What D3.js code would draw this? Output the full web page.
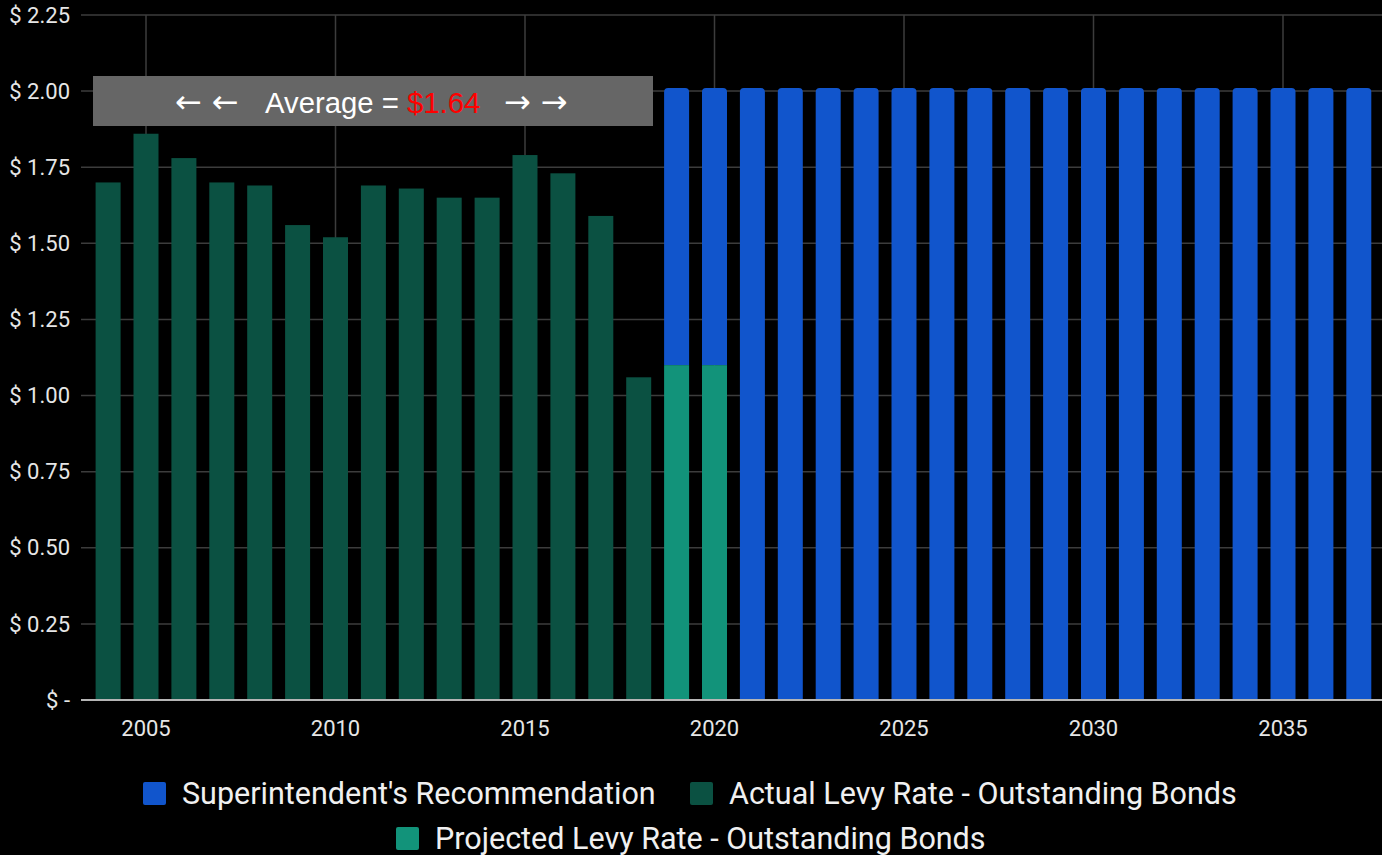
<!DOCTYPE html>
<html>
<head>
<meta charset="utf-8">
<script src="https://cdn.jsdelivr.net/npm/d3@7"></script>
<style>
  html, body { margin: 0; padding: 0; background: #000; }
  svg { display: block; }
</style>
</head>
<body>
<svg id="chart" width="1382" height="855"></svg>
<script>
// Levy rate per year ($ per $1,000 assessed value)
const actualYears = [2004, 2005, 2006, 2007, 2008, 2009, 2010, 2011, 2012, 2013, 2014, 2015, 2016, 2017, 2018];
const actualRates = [1.70, 1.86, 1.78, 1.70, 1.69, 1.56, 1.52, 1.69, 1.68, 1.65, 1.65, 1.79, 1.73, 1.59, 1.06];

const projectedYears = [2019, 2020];
const projectedRates = [1.10, 1.10];

const recommendedYears = [2019, 2020, 2021, 2022, 2023, 2024, 2025, 2026, 2027, 2028, 2029, 2030,
  2031, 2032, 2033, 2034, 2035, 2036, 2037];
const recommendedTotals = [2.01, 2.01, 2.01, 2.01, 2.01, 2.01, 2.01, 2.01, 2.01, 2.01, 2.01, 2.01,
  2.01, 2.01, 2.01, 2.01, 2.01, 2.01, 2.01];

const yTicks = [0, 0.25, 0.5, 0.75, 1.0, 1.25, 1.5, 1.75, 2.0, 2.25];
const xTicks = [2005, 2010, 2015, 2020, 2025, 2030, 2035];

const averageLabel = "$1.64";

const seriesNames = ["Superintendent's Recommendation", "Actual Levy Rate - Outstanding Bonds", "Projected Levy Rate - Outstanding Bonds"];
const seriesColors = ["#1155cc", "#0b5142", "#12937a"];

const svg = d3.select("#chart");
const font = "Roboto, 'Noto Sans', sans-serif";

const x = d3.scaleLinear().domain([2005, 2035]).range([146, 1283]);
const y = d3.scaleLinear().domain([0, 2.25]).range([700, 15]);
const barW = 25;
const plotLeft = 81, plotRight = 1382;

// grid
svg.append("g").selectAll("line.h").data(yTicks.filter(d => d > 0)).join("line")
  .attr("x1", plotLeft).attr("x2", plotRight)
  .attr("y1", d => y(d)).attr("y2", d => y(d))
  .attr("stroke", "#3c3c3c").attr("stroke-width", 1.5);
svg.append("g").selectAll("line.v").data(xTicks).join("line")
  .attr("x1", d => x(d)).attr("x2", d => x(d))
  .attr("y1", y(2.25)).attr("y2", y(0))
  .attr("stroke", "#3c3c3c").attr("stroke-width", 1.5);

// y labels
const yFmt = d => d === 0 ? "$ -" : "$ " + d3.format(".2f")(d);
svg.append("g").selectAll("text").data(yTicks).join("text")
  .attr("x", 70).attr("y", d => y(d)).attr("dy", "0.35em")
  .attr("text-anchor", "end").attr("fill", "#e6e6e6")
  .style("font-family", font).style("font-size", "22px")
  .text(yFmt);

// x labels
svg.append("g").selectAll("text").data(xTicks).join("text")
  .attr("x", d => x(d)).attr("y", 736)
  .attr("text-anchor", "middle").attr("fill", "#e6e6e6")
  .style("font-family", font).style("font-size", "22px")
  .text(d => d);

// actual bars
svg.append("g").selectAll("rect").data(actualYears.map((yr, i) => ({ yr, v: actualRates[i] }))).join("rect")
  .attr("x", d => x(d.yr) - barW / 2).attr("width", barW)
  .attr("y", d => y(d.v)).attr("height", d => y(0) - y(d.v))
  .attr("fill", seriesColors[1]);

// projected bars
const projMap = new Map(projectedYears.map((yr, i) => [yr, projectedRates[i]]));
svg.append("g").selectAll("rect").data(projectedYears.map((yr, i) => ({ yr, v: projectedRates[i] }))).join("rect")
  .attr("x", d => x(d.yr) - barW / 2).attr("width", barW)
  .attr("y", d => y(d.v)).attr("height", d => y(0) - y(d.v))
  .attr("fill", seriesColors[2]);

// recommendation bars stacked on projected, rounded top
const r = 4;
function topRounded(x0, y0, w, h) {
  return `M${x0},${y0 + h} L${x0},${y0 + r} Q${x0},${y0} ${x0 + r},${y0} L${x0 + w - r},${y0} Q${x0 + w},${y0} ${x0 + w},${y0 + r} L${x0 + w},${y0 + h} Z`;
}
svg.append("g").selectAll("path").data(recommendedYears.map((yr, i) => ({ yr, total: recommendedTotals[i], base: projMap.get(yr) || 0 }))).join("path")
  .attr("d", d => topRounded(x(d.yr) - barW / 2, y(d.total), barW, y(d.base) - y(d.total)))
  .attr("fill", seriesColors[0]);

// baseline
svg.append("line").attr("x1", plotLeft).attr("x2", plotRight)
  .attr("y1", y(0)).attr("y2", y(0))
  .attr("stroke", "#b5b5b5").attr("stroke-width", 2);

// average annotation
const ann = svg.append("g");
ann.append("rect").attr("x", 93).attr("y", 76).attr("width", 560).attr("height", 50).attr("fill", "#666666");
const arrowFont = "'DejaVu Sans', sans-serif";
ann.append("text").attr("x", 175).attr("y", 102).attr("dy", "0.35em")
  .attr("fill", "#ffffff").style("font-family", arrowFont).style("font-size", "32px")
  .style("letter-spacing", "10px")
  .text("\u2190\u2190");
ann.append("text").attr("x", 504).attr("y", 102).attr("dy", "0.35em")
  .attr("fill", "#ffffff").style("font-family", arrowFont).style("font-size", "32px")
  .style("letter-spacing", "10px")
  .text("\u2192\u2192");
const t = ann.append("text").attr("x", 265).attr("y", 102).attr("dy", "0.36em")
  .attr("fill", "#ffffff")
  .style("font-family", "'Liberation Sans', Arial, sans-serif").style("font-size", "29.3px");
t.append("tspan").text("Average = ");
t.append("tspan").attr("fill", "#ff0000").text(averageLabel);

// legend
const legendItems = [
  { name: seriesNames[0], color: seriesColors[0], x: 143, y: 793 },
  { name: seriesNames[1], color: seriesColors[1], x: 690, y: 793 },
  { name: seriesNames[2], color: seriesColors[2], x: 396, y: 838 }
];
const lg = svg.append("g").selectAll("g").data(legendItems).join("g");
lg.append("rect").attr("x", d => d.x).attr("y", d => d.y - 11).attr("width", 23).attr("height", 23)
  .attr("rx", 2).attr("fill", d => d.color);
lg.append("text").attr("x", d => d.x + 39).attr("y", d => d.y).attr("dy", "0.36em")
  .attr("fill", "#f0f0f0").style("font-family", font).style("font-size", "30.5px")
  .text(d => d.name);
</script>
</body>
</html>
